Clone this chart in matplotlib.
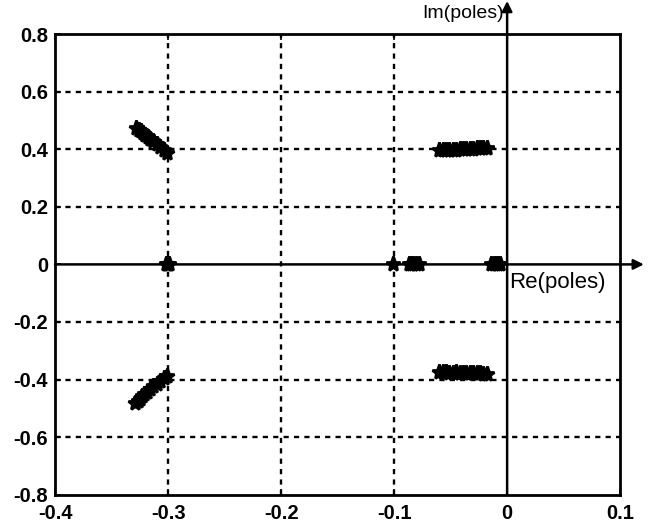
"""
Pole map: closed-loop poles in the complex plane (Re vs Im).
"""
import matplotlib
matplotlib.use("Agg")
import matplotlib.pyplot as plt

# --- data --------------------------------------------------------------
# complex pair near -0.31 +/- 0.43j
upper_left_re = [-0.328, -0.326, -0.324, -0.322, -0.320, -0.318, -0.316, -0.313, -0.310, -0.307, -0.304, -0.301]
upper_left_im = [0.472, 0.468, 0.462, 0.456, 0.450, 0.443, 0.436, 0.427, 0.417, 0.407, 0.397, 0.386]
lower_left_re = [-0.329, -0.327, -0.325, -0.323, -0.321, -0.319, -0.316, -0.313, -0.310, -0.307, -0.304, -0.301]
lower_left_im = [-0.480, -0.473, -0.466, -0.458, -0.450, -0.442, -0.433, -0.424, -0.414, -0.404, -0.395, -0.386]

# complex pair near -0.04 +/- 0.39j
upper_right_re = [-0.060, -0.057, -0.054, -0.051, -0.048, -0.045, -0.042, -0.039, -0.036, -0.033, -0.030, -0.027, -0.024, -0.021, -0.018]
upper_right_im = [0.397, 0.398, 0.398, 0.399, 0.398, 0.399, 0.400, 0.400, 0.400, 0.401, 0.402, 0.403, 0.404, 0.404, 0.403]
lower_right_re = [-0.060, -0.057, -0.054, -0.051, -0.048, -0.045, -0.042, -0.039, -0.036, -0.033, -0.030, -0.027, -0.024, -0.021, -0.018]
lower_right_im = [-0.375, -0.375, -0.375, -0.376, -0.376, -0.375, -0.376, -0.376, -0.377, -0.377, -0.377, -0.378, -0.378, -0.379, -0.379]

# real poles
real_re = [-0.302, -0.301, -0.300, -0.299, -0.101, -0.087, -0.085, -0.083, -0.081, -0.078,
           -0.014, -0.012, -0.010, -0.008, -0.006]
real_im = [0.0] * len(real_re)

x_ticks = [-0.4, -0.3, -0.2, -0.1, 0, 0.1]
y_ticks = [-0.8, -0.6, -0.4, -0.2, 0, 0.2, 0.4, 0.6, 0.8]
x_labels = ["-0.4", "-0.3", "-0.2", "-0.1", "0", "0.1"]
y_labels = ["-0.8", "-0.6", "-0.4", "-0.2", "0", "0.2", "0.4", "0.6", "0.8"]

plt.rcParams["font.family"] = ["Liberation Sans", "DejaVu Sans"]

fig = plt.figure(figsize=(6.48, 5.32), dpi=100)
ax = fig.add_axes([0.085, 0.070, 0.872, 0.866])

ax.set_xlim(-0.4, 0.1)
ax.set_ylim(-0.8, 0.8)
ax.set_xticks(x_ticks)
ax.set_xticklabels(x_labels, fontsize=14.5, fontweight="bold")
ax.set_yticks(y_ticks)
ax.set_yticklabels(y_labels, fontsize=14.5, fontweight="bold")
ax.tick_params(axis="y", direction="in", length=4, width=1.2, pad=5)
ax.tick_params(axis="x", direction="in", length=4, width=1.2, pad=7, top=True)

for s in ax.spines.values():
    s.set_linewidth(2)

# dashed grid (skip the zero lines; the axes are drawn solid)
for xv in x_ticks[1:4]:
    ax.axvline(xv, color="black", lw=1.7, ls=(0, (2.2, 2.2)), zorder=1)
for yv in y_ticks[1:-1]:
    if yv != 0:
        ax.axhline(yv, color="black", lw=1.7, ls=(0, (2.2, 2.2)), zorder=1)

# Re / Im axes with arrowheads running past the frame
ax.annotate("", xy=(0.121, 0), xytext=(-0.4, 0), xycoords="data",
            arrowprops=dict(arrowstyle="-|>", color="black", lw=1.8, mutation_scale=15,
                            shrinkA=0, shrinkB=0), annotation_clip=False)
ax.annotate("", xy=(0, 0.915), xytext=(0, -0.8), xycoords="data",
            arrowprops=dict(arrowstyle="-|>", color="black", lw=1.8, mutation_scale=15,
                            shrinkA=0, shrinkB=0), annotation_clip=False)

ax.text(-0.003, 0.872, "Im(poles)", ha="right", va="center", fontsize=14, clip_on=False)
ax.text(0.002, -0.062, "Re(poles)", ha="left", va="center", fontsize=16)

mk = dict(marker="*", color="black", markersize=11, linestyle="none", markeredgewidth=2, zorder=3)
ax.plot(upper_left_re, upper_left_im, **mk)
ax.plot(lower_left_re, lower_left_im, **mk)
ax.plot(upper_right_re, upper_right_im, **mk)
ax.plot(lower_right_re, lower_right_im, **mk)
ax.plot(real_re, real_im, **mk)

fig.savefig("out.png", dpi=100)
